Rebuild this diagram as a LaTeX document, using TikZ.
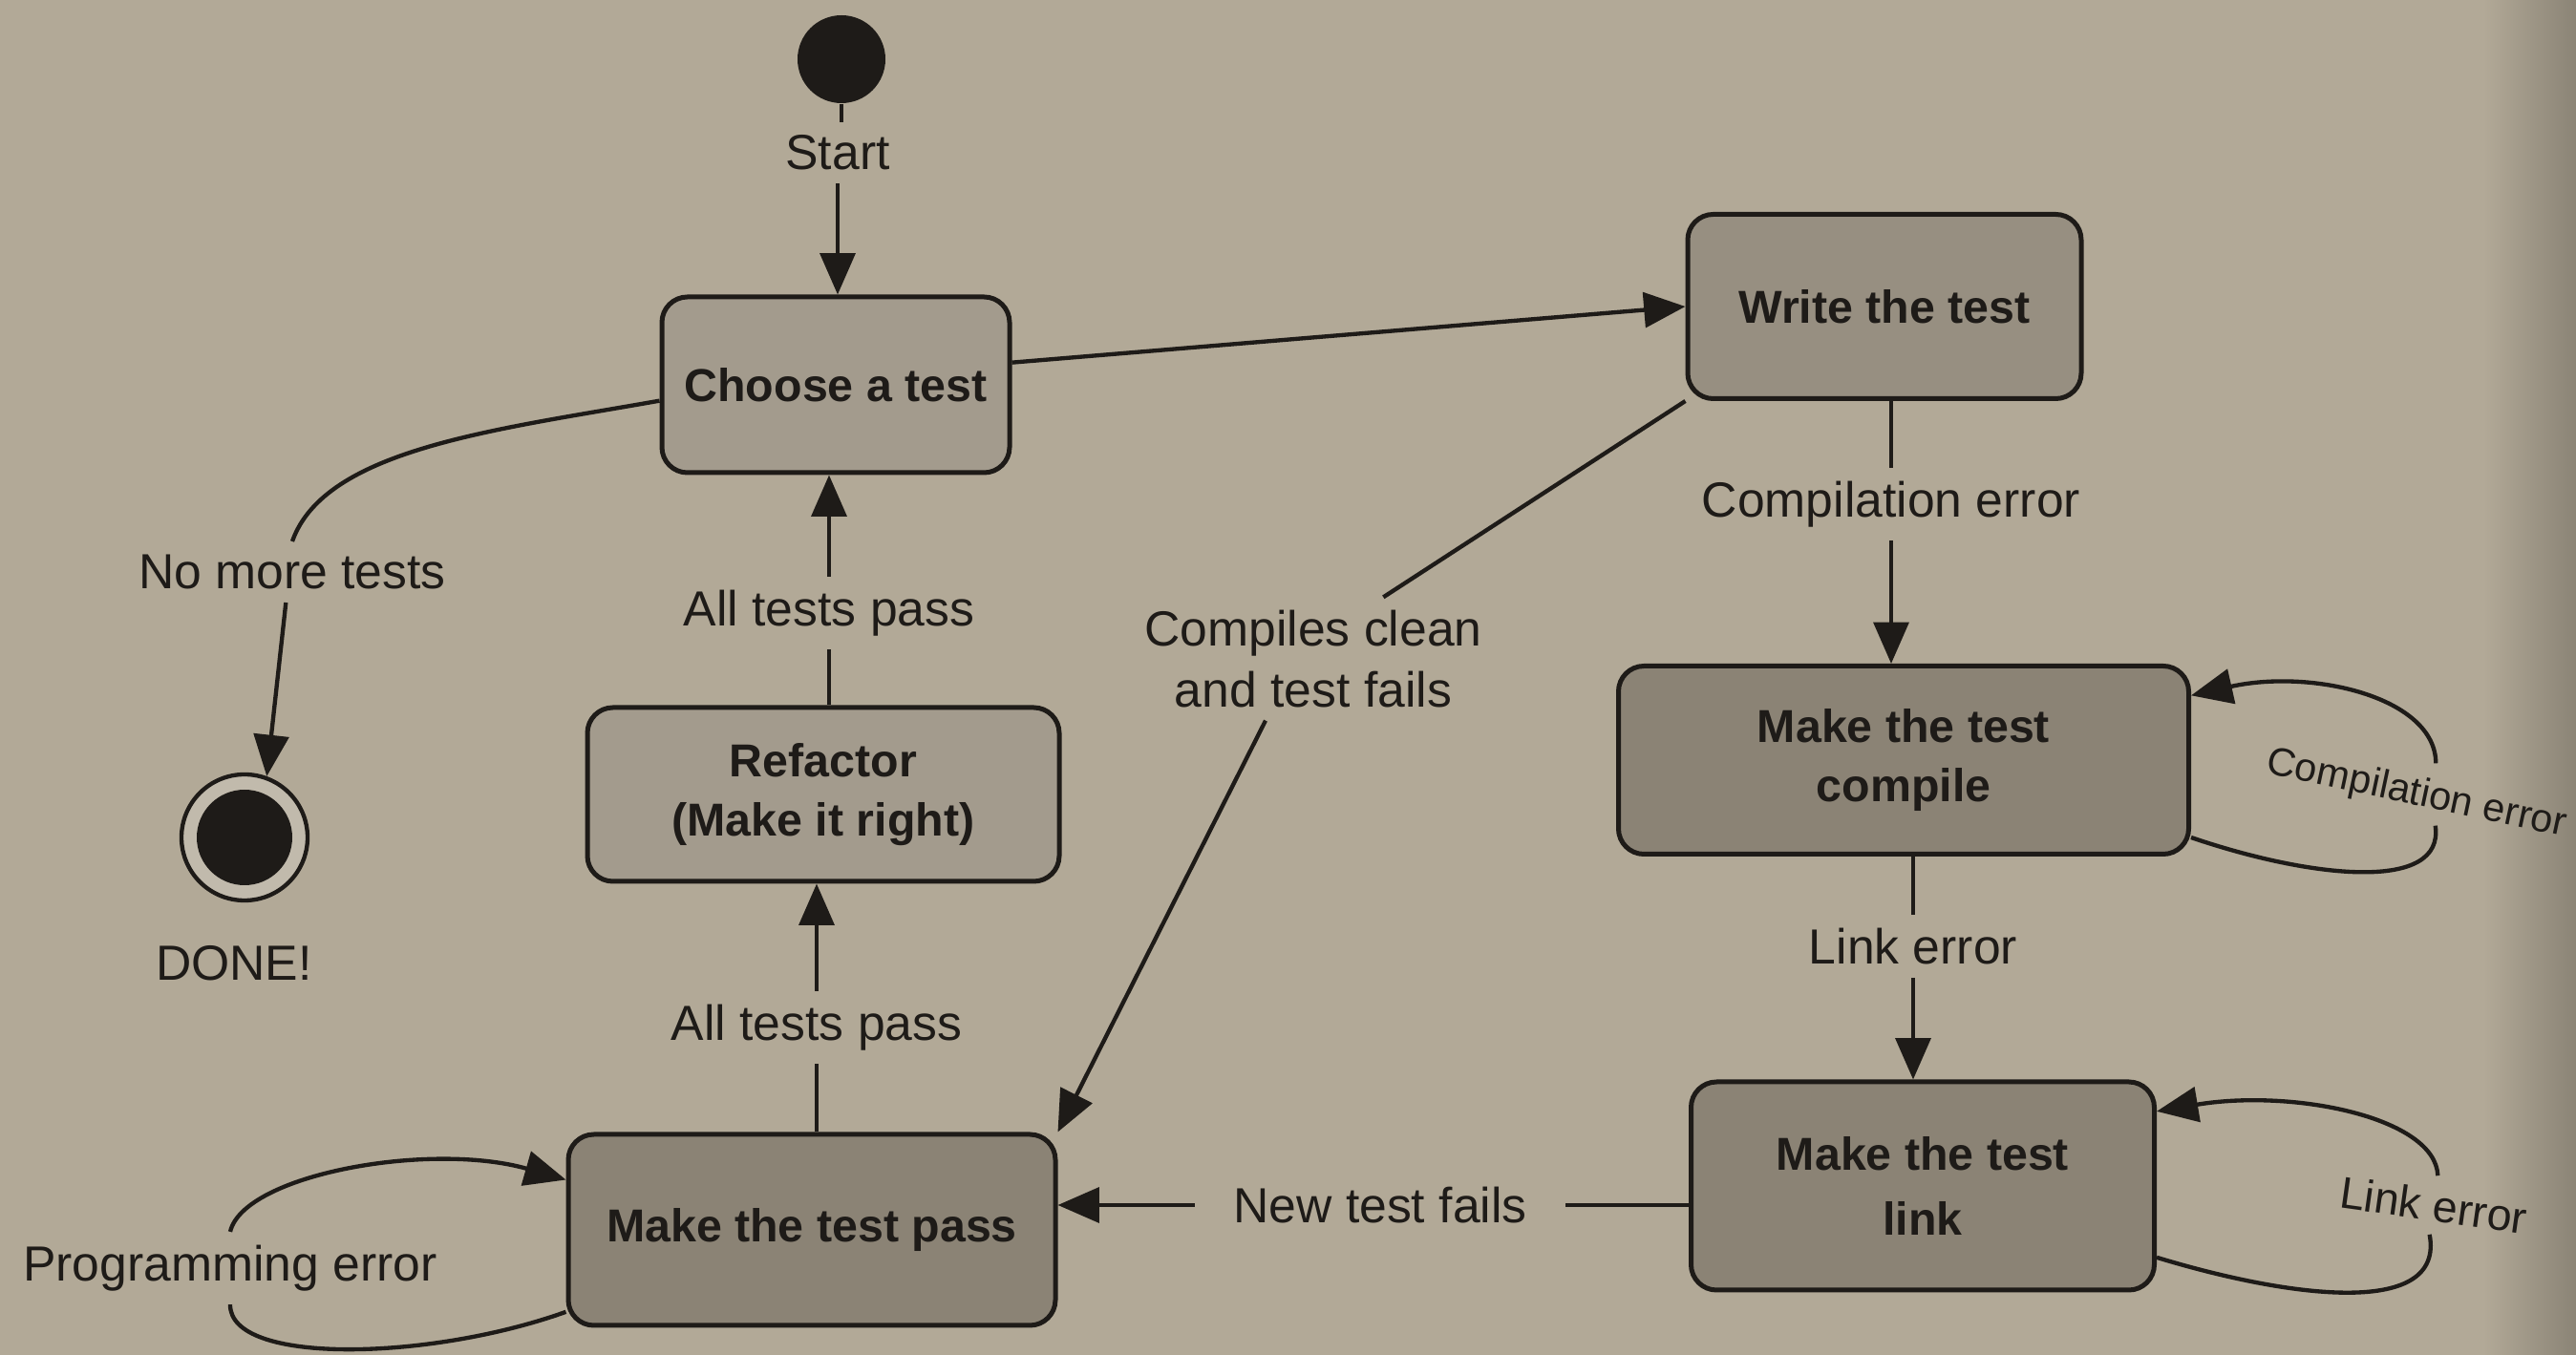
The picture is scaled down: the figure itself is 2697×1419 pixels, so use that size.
\documentclass[tikz,border=0pt]{standalone}
\usepackage{fontspec}
\setmainfont{Liberation Sans}
\usetikzlibrary{arrows.meta}
\definecolor{paper}{HTML}{B2A997}
\definecolor{boxlight}{HTML}{A39B8D}
\definecolor{boxmid}{HTML}{978F81}
\definecolor{boxdark}{HTML}{8B8375}
\definecolor{ink}{HTML}{1E1B18}
\begin{document}
\begin{tikzpicture}[x=0.3pt,y=-0.3pt,
  state/.style={draw=ink, line width=1.5pt, rounded corners=8pt,
    font=\fontsize{14.5}{18.5}\selectfont\bfseries, text=ink, align=center, inner sep=0pt},
  lbl/.style={font=\fontsize{15.5}{19}\selectfont, text=ink, inner sep=4pt, align=center},
  conn/.style={draw=ink, line width=1.3pt},
  arr/.style={conn, -{Triangle[length=13pt,width=11pt]}},
]
\fill[paper] (0,0) rectangle (2697,1419);
\useasboundingbox (0,0) rectangle (2697,1419);
\shade[left color=paper, right color=paper!78!black] (2600,0) rectangle (2697,1419);

% states
\node[circle, fill=ink, minimum size=27.6pt, inner sep=0pt] (start) at (881,62) {};
\node[lbl] (startlbl) at (877,160) {Start};
\node[state, fill=boxlight, minimum width=109.2pt, minimum height=55.2pt] (choose) at (875,403) {Choose a test};
\node[state, fill=boxmid, minimum width=123.6pt, minimum height=57.9pt] (write) at (1973,321) {Write the test};
\node[state, fill=boxdark, minimum width=179.1pt, minimum height=59.1pt] (compile) at (1993,796) {Make the test\\compile};
\node[state, fill=boxdark, minimum width=145.5pt, minimum height=65.4pt] (link) at (2013,1242) {Make the test\\[2pt]link};
\node[state, fill=boxdark, minimum width=153pt, minimum height=60pt] (pass) at (850,1288) {Make the test pass};
\node[state, fill=boxlight, minimum width=148.2pt, minimum height=54.6pt] (refactor) at (862,832) {Refactor\\(Make it right)};
\node[circle, draw=ink, line width=1.3pt, fill=paper!80!white, minimum size=39.6pt, inner sep=0pt] (done) at (256,877) {};
\node[circle, fill=ink, minimum size=30pt, inner sep=0pt] (donedot) at (done.center) {};
\node[lbl] (donelbl) at (245,1009) {DONE!};

% labels
\node[lbl] (nomore) at (306,599) {No more tests};
\node[lbl] (allpass1) at (868,642) {All tests pass};
\node[lbl] (allpass2) at (855,1076) {All tests pass};
\node[lbl] (compiles) at (1375,690) {Compiles clean\\and test fails};
\node[lbl] (comperr) at (1980,528) {Compilation error};
\node[lbl] (linkerr) at (2003,991) {Link error};
\node[lbl, inner xsep=12pt] (newfails) at (1445,1262) {New test fails};
\node[lbl] (progerr) at (241,1328) {Programming error};
\node[lbl, font=\fontsize{12.5}{15}\selectfont, rotate=-12] (comperr2) at (2530,832) {Compilation error};
\node[lbl, font=\fontsize{14}{17}\selectfont, rotate=-8] (linkerr2) at (2548,1262) {Link error};

% connectors
\draw[conn] (start.south) -- (start.south |- startlbl.north);
\draw[arr] (startlbl.south) -- (startlbl.south |- choose.north);
\draw[arr] ([yshift=7pt]choose.east) -- (write.west);
\draw[conn] ([yshift=-5pt]choose.west) .. controls (520,450) and (340,470) .. (nomore.north);
\draw[arr] ([xshift=-2pt]nomore.south) -- (done.70);
\draw[conn] (allpass1.south) -- (allpass1.south |- refactor.north);
\draw[arr] (allpass1.north) -- (allpass1.north |- choose.south);
\draw[conn] (allpass2.south) -- (allpass2.south |- pass.north);
\draw[arr] (allpass2.north) -- (allpass2.north |- refactor.south);
\draw[conn] (write.south west) -- ([xshift=22pt]compiles.north);
\draw[arr] ([xshift=-15pt]compiles.south) -- (pass.north east);
\draw[conn] (comperr.north) -- (comperr.north |- write.south);
\draw[arr] (comperr.south) -- (comperr.south |- compile.north);
\draw[conn] (linkerr.north) -- (linkerr.north |- compile.south);
\draw[arr] (linkerr.south) -- (linkerr.south |- link.north);
\draw[conn] (link.west |- newfails) -- (newfails.east);
\draw[arr] (newfails.west) -- (pass.east |- newfails);

% self loops
\draw[conn] ([yshift=5pt]pass.south west) .. controls (450,1425) and (240,1430) .. (progerr.south);
\draw[arr] (progerr.north) .. controls (255,1230) and (450,1195) .. ([yshift=-15pt]pass.north west);
\draw[arr] ([xshift=4pt]comperr2.north) .. controls (2550,730) and (2420,700) .. ([yshift=-10pt]compile.north east);
\draw[conn] ([yshift=6pt]compile.south east) .. controls (2420,920) and (2560,935) .. ([xshift=8pt]comperr2.south);
\draw[arr] (linkerr2.north) .. controls (2550,1170) and (2400,1140) .. ([yshift=-10pt]link.north east);
\draw[conn] ([yshift=11pt]link.south east) .. controls (2400,1360) and (2560,1380) .. (linkerr2.south);
\end{tikzpicture}
\end{document}
